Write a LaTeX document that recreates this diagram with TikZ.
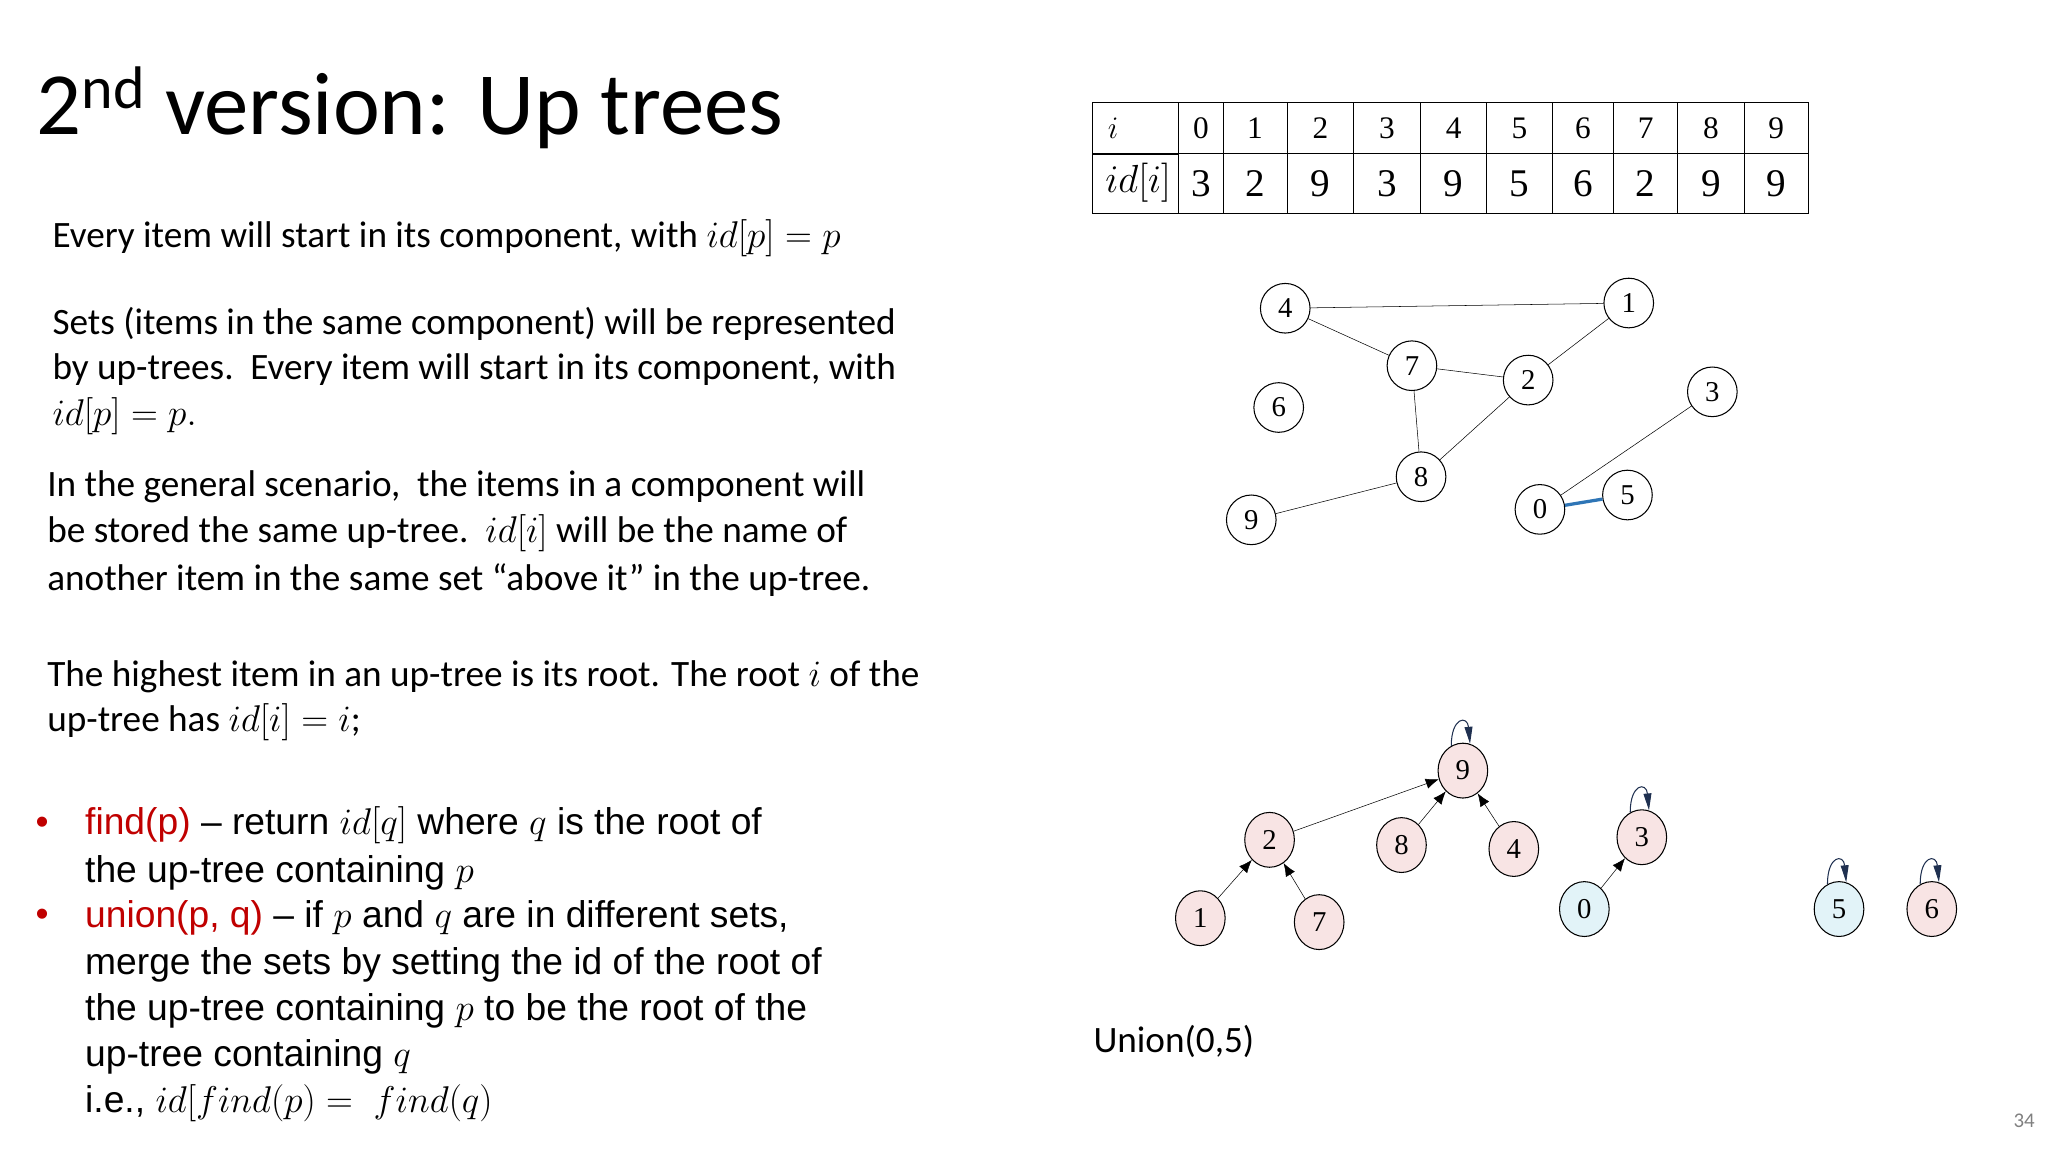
\RequirePackage{fix-cm}
\documentclass[tikz,border=0pt]{standalone}
\usepackage{fontspec}
\setmainfont{Carlito}
\newfontfamily\arialf{Liberation Sans}
\newfontfamily\numf{Liberation Serif}
\usetikzlibrary{arrows.meta,shapes.geometric}
\definecolor{pinkf}{HTML}{F8E4E4}
\definecolor{bluef}{HTML}{E2F3F8}
\definecolor{navy}{HTML}{1F3050}
\definecolor{redt}{HTML}{C00000}
\definecolor{blueedge}{HTML}{2E75B6}
\begin{document}
\begin{tikzpicture}[x=1pt,y=-1pt,
  txt/.style={anchor=west,inner sep=0pt,font=\fontsize{28.5}{30}\selectfont},
  btxt/.style={anchor=west,inner sep=0pt,font=\arialf\fontsize{28.5}{30}\selectfont},
  gnode/.style={circle,draw,thick,minimum size=38pt,inner sep=0pt,font=\numf\fontsize{22}{22}\selectfont},
  tnode/.style={ellipse,draw,thick,minimum width=38pt,minimum height=42pt,inner sep=0pt,fill=pinkf,font=\numf\fontsize{22}{22}\selectfont},
  tnodeb/.style={tnode,fill=bluef},
  tarr/.style={-{Latex[length=10pt,width=8pt]},thin},
  self/.style={navy,thick,-{Triangle[length=13pt,width=6pt]}},
  cell/.style={draw,thick,minimum height=40pt,inner sep=0pt,anchor=north west,font=\numf\fontsize{24}{24}\selectfont}
]
\useasboundingbox (0,0) rectangle (1568,882);
% title
\node[anchor=base west,inner sep=0pt,font=\fontsize{68}{68}\selectfont] (title) at (28,103) {2\raisebox{20pt}{\fontsize{46}{46}\selectfont nd} version: Up trees};
% left text
\node[txt] (l1) at (40,182) {Every item will start in its component, with $id[p]=p$};
\node[txt] (l2) at (40,248) {Sets (items in the same component) will be represented};
\node[txt] (l3) at (40,283) {by up-trees.\ \ Every item will start in its component, with};
\node[txt] (l4) at (40,319) {$id[p]=p.$};
\node[txt] (l5) at (36,373) {In the general scenario,\ \ the items in a component will};
\node[txt] (l6) at (36,408) {be stored the same up-tree.\ \ $id[i]$ will be the name of};
\node[txt] (l7) at (36,444) {another item in the same set “above it” in the up-tree.};
\node[txt] (l8) at (36,518) {The highest item in an up-tree is its root. The root $i$ of the};
\node[txt] (l9) at (36,553) {up-tree has $id[i]=i$;};
\node[btxt,text=redt] (b1) at (27,632) {•};
\node[btxt,text=redt] (b2) at (27,703) {•};
\node[btxt] (m1) at (65,632) {\textcolor{redt}{find(p)} – return $id[q]$ where $q$ is the root of};
\node[btxt] (m2) at (65,668) {the up-tree containing $p$};
\node[btxt] (m3) at (65,703) {\textcolor{redt}{union(p, q)} – if $p$ and $q$ are in different sets,};
\node[btxt] (m4) at (65,739) {merge the sets by setting the id of the root of};
\node[btxt] (m5) at (65,774) {the up-tree containing $p$ to be the root of the};
\node[btxt] (m6) at (65,809) {up-tree containing $q$};
\node[btxt] (m7) at (65,845) {i.e., $id[find(p)=\ find(q)$};
\node[txt] (un) at (837,797) {Union(0,5)};
\node[anchor=east,inner sep=0pt,text=gray,font=\fontsize{16}{16}\selectfont] (pg) at (1558,858) {34};
% table
\node[cell,minimum width=66pt] (h0) at (836,78) {};
\node[anchor=west,inner sep=0pt,font=\fontsize{24}{24}\selectfont] (hi) at (848,98) {$i$};
\node[cell,minimum width=66pt,minimum height=46pt] (r0) at (836,117) {};
\node[anchor=west,inner sep=0pt,font=\fontsize{30}{30}\selectfont] (ri) at (846,140) {$id[i]$};
\foreach \k/\xa/\w/\v in {0/902/34/3,1/936/49/2,2/985/51/9,3/1036/51/3,4/1087/51/9,5/1138/50/5,6/1188/47/6,7/1235/49/2,8/1284/51/9,9/1335/49/9}{
  \node[cell,minimum width=\w pt,fill=white] (c\k) at (\xa,78) {\k};
  \node[cell,minimum width=\w pt,minimum height=46pt,fill=white,font=\numf\fontsize{30}{30}\selectfont] (d\k) at (\xa,117) {\v};
}
% graph
\node[gnode] (g4) at (984,236) {4};
\node[gnode] (g1) at (1247,232) {1};
\node[gnode] (g7) at (1081,280) {7};
\node[gnode] (g2) at (1170,291) {2};
\node[gnode] (g3) at (1311,300) {3};
\node[gnode] (g6) at (979,312) {6};
\node[gnode] (g8) at (1088,365) {8};
\node[gnode] (g9) at (958,398) {9};
\node[gnode] (g0) at (1179,390) {0};
\node[gnode] (g5) at (1246,379) {5};
\draw (g4)--(g1) (g4)--(g7) (g7)--(g2) (g2)--(g1) (g7)--(g8) (g8)--(g2) (g8)--(g9) (g0)--(g3);
\draw[blueedge,line width=2.5pt] (g0)--(g5);
% trees
\node[tnode] (t9) at (1120,590) {9};
\node[tnode] (t2) at (972,643) {2};
\node[tnode] (t8) at (1073,647) {8};
\node[tnode] (t4) at (1159,650) {4};
\node[tnode] (t3) at (1257,641) {3};
\node[tnode] (t1) at (919,703) {1};
\node[tnode] (t7) at (1010,706) {7};
\node[tnodeb] (t0) at (1213,696) {0};
\node[tnodeb] (t5) at (1408,696) {5};
\node[tnode] (t6) at (1479,696) {6};
\draw[tarr] (t1)--(t2);
\draw[tarr] (t7)--(t2);
\draw[tarr] (t2)--(t9);
\draw[tarr] (t8)--(t9);
\draw[tarr] (t4)--(t9);
\draw[tarr] (t0)--(t3);
\foreach \n in {t9,t3,t5,t6}{
  \draw[self] (\n.115) .. controls +(0,-22) and +(-2,-22) .. (\n.75);
}
\end{tikzpicture}
\end{document}
